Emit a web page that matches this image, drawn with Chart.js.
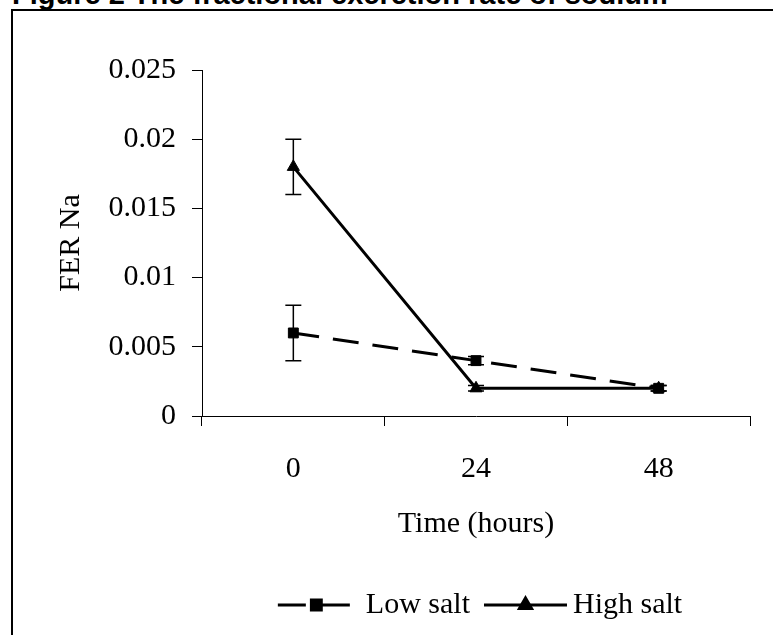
<!DOCTYPE html>
<html>
<head>
<meta charset="utf-8">
<script src="https://cdn.jsdelivr.net/npm/chart.js@4/dist/chart.umd.min.js"></script>
<style>
    html, body { margin: 0; padding: 0; background: #fff; overflow: hidden; }
    #wrap { position: relative; width: 773px; height: 635px; }
    #frame {
        position: absolute; left: 11px; top: 9px; width: 800px; height: 700px;
        border-left: 2px solid #000; border-top: 2px solid #000;
    }
    #title {
        position: absolute; left: 12px; top: -20px; margin: 0;
        font: bold 29px/29px "Liberation Sans", Arial, sans-serif; white-space: nowrap;
    }
    canvas { position: absolute; left: 0; top: 0; }
</style>
</head>
<body>
<div id="wrap">
    <div id="frame"></div>
    <div id="title">Figure 2 The fractional excretion rate of sodium</div>
    <canvas id="ferChart" width="773" height="635"></canvas>
</div>
<script>
// data
const timeLabels = ['0', '24', '48'];
const lowSalt = [0.006, 0.004, 0.002];
const lowSaltErr = [0.002, 0.0003, 0.0002];
const highSalt = [0.018, 0.002, 0.002];
const highSaltErr = [0.002, 0.0002, 0.0002];
const yTickLabels = ['0', '0.005', '0.01', '0.015', '0.02', '0.025'];

const serif = '"Liberation Serif", "Times New Roman", serif';

// error bars, drawn under the markers
const errorBars = {
    id: 'errorBars',
    beforeDatasetsDraw(chart) {
        const ctx = chart.ctx;
        const yScale = chart.scales.y;
        ctx.save();
        ctx.strokeStyle = '#000';
        ctx.lineWidth = 1.5;
        ctx.setLineDash([]);
        chart.data.datasets.forEach((ds, di) => {
            const meta = chart.getDatasetMeta(di);
            ds.errors.forEach((err, i) => {
                const x = meta.data[i].x;
                const top = yScale.getPixelForValue(ds.data[i] + err);
                const bot = yScale.getPixelForValue(ds.data[i] - err);
                ctx.beginPath();
                ctx.moveTo(x, top); ctx.lineTo(x, bot);
                ctx.moveTo(x - 8, top); ctx.lineTo(x + 8, top);
                ctx.moveTo(x - 8, bot); ctx.lineTo(x + 8, bot);
                ctx.stroke();
            });
        });
        ctx.restore();
    },
};

// legend under the axis title: line sample with marker, then label
const bottomLegend = {
    id: 'bottomLegend',
    afterDraw(chart) {
        const ctx = chart.ctx;
        const y = 605;
        const samples = [73, 83];
        const gapAfterSample = [15, 6];
        const gapBetween = 14;
        ctx.save();
        ctx.font = '30px ' + serif;
        const widths = chart.data.datasets.map((ds) => ctx.measureText(ds.label).width);
        const total = samples[0] + gapAfterSample[0] + widths[0] + gapBetween + samples[1] + gapAfterSample[1] + widths[1];
        let x = (chart.chartArea.left + chart.chartArea.right) / 2 + 4 - total / 2;
        chart.data.datasets.forEach((ds, i) => {
            ctx.strokeStyle = '#000';
            ctx.lineWidth = 3;
            ctx.setLineDash(i === 0 ? [28, 16] : []);
            ctx.beginPath();
            ctx.moveTo(x, y);
            ctx.lineTo(x + samples[i], y);
            ctx.stroke();
            ctx.setLineDash([]);
            ctx.fillStyle = '#000';
            Chart.helpers.drawPoint(ctx, {
                pointStyle: ds.pointStyle,
                radius: ds.pointRadius,
                rotation: 0,
                borderWidth: 1,
            }, x + samples[i] / 2 + (i === 0 ? 2 : 0), y);
            x += samples[i] + gapAfterSample[i];
            ctx.textBaseline = 'middle';
            ctx.textAlign = 'left';
            ctx.fillText(ds.label, x, y);
            x += widths[i] + gapBetween;
        });
        ctx.restore();
    },
};

const ctx = document.getElementById('ferChart').getContext('2d');
new Chart(ctx, {
    type: 'line',
    data: {
        labels: timeLabels,
        datasets: [
            {
                label: 'Low salt',
                data: lowSalt,
                errors: lowSaltErr,
                borderColor: '#000',
                backgroundColor: '#000',
                borderWidth: 3,
                borderDash: [26, 14],
                pointStyle: 'rect',
                pointRadius: 7,
                pointBorderWidth: 1,
                tension: 0,
            },
            {
                label: 'High salt',
                data: highSalt,
                errors: highSaltErr,
                borderColor: '#000',
                backgroundColor: '#000',
                borderWidth: 3,
                pointStyle: 'triangle',
                pointRadius: 7,
                pointBorderWidth: 1,
                tension: 0,
            },
        ],
    },
    options: {
        responsive: false,
        animation: false,
        layout: { padding: { left: 0, right: 23, top: 70, bottom: 79 } },
        plugins: {
            legend: { display: false },
            tooltip: { enabled: false },
        },
        scales: {
            x: {
                offset: true,
                afterFit: (scale) => { scale.height = 140; },
                border: { display: true, color: '#000', width: 1 },
                grid: {
                    offset: true,
                    drawOnChartArea: false,
                    drawTicks: true,
                    tickLength: 10,
                    color: '#000',
                },
                ticks: {
                    color: '#000',
                    font: { family: serif, size: 30 },
                    padding: 25,
                    maxRotation: 0,
                    autoSkip: false,
                },
                title: {
                    display: true,
                    text: 'Time (hours)',
                    color: '#000',
                    font: { family: serif, size: 30, lineHeight: 1.2 },
                    padding: { top: 0, bottom: 14 },
                },
            },
            y: {
                min: 0,
                max: 0.025,
                afterFit: (scale) => { scale.width = 202; },
                border: { display: true, color: '#000', width: 1 },
                grid: {
                    drawOnChartArea: false,
                    drawTicks: true,
                    tickLength: 10,
                    color: '#000',
                },
                ticks: {
                    stepSize: 0.005,
                    color: '#000',
                    font: { family: serif, size: 30 },
                    padding: 16,
                    callback: (value, index) => yTickLabels[index],
                },
                title: {
                    display: true,
                    text: 'FER Na',
                    color: '#000',
                    font: { family: serif, size: 30, lineHeight: 1.2 },
                    padding: { top: 53, bottom: 0 },
                },
            },
        },
    },
    plugins: [errorBars, bottomLegend],
});
</script>
</body>
</html>
